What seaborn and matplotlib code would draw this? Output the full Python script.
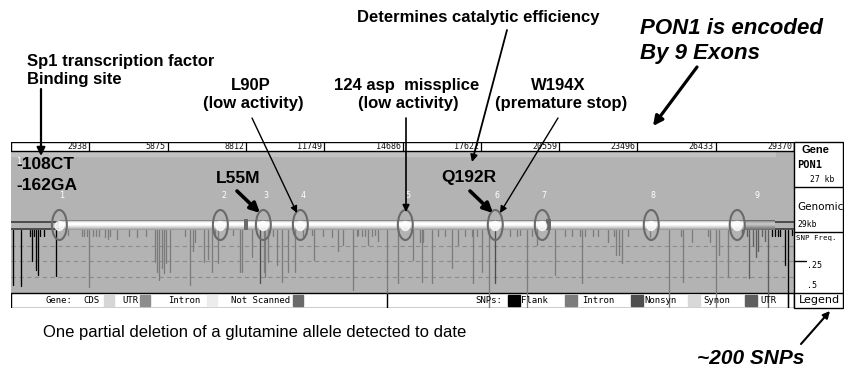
import numpy as np
import pandas as pd
import matplotlib
matplotlib.use("Agg")
import matplotlib.pyplot as plt
from matplotlib.patches import Ellipse, Rectangle
import seaborn as sns

# ---------------- data ----------------
ruler_ticks = [2938, 5875, 8812, 11749, 14686, 17622, 20559, 23496, 26433, 29370]
exon_ids = ["1", "2", "3", "4", "5", "6", "7", "8", "9"]
exon_pos = [1815, 7853, 9465, 10853, 14790, 18165, 19928, 24015, 27240]
exon_label_pos = [1928, 8003, 9578, 10965, 14903, 18240, 20003, 24090, 27990]
gene_start = 1815
intron_end = 27540
utr_end = 28665
region_end = 29370
not_scanned_start = [8740, 20060]
not_scanned_len = [150, 190]

snp_pos = [80, 390, 728, 791, 878, 953, 1016, 1103, 1253, 1703,
           2153, 2666, 2753, 2854, 2940, 3079, 3203, 3315, 3540, 3653,
           3728, 3990, 4440, 4740, 5078, 5415, 5479, 5565, 5666, 5753,
           5816, 5978, 6540, 6728, 6829, 6915, 7253, 7403, 7541, 7665,
           7778, 8340, 8603, 8666, 9041, 9353, 9476, 9540, 9653, 9840,
           9979, 10166, 10391, 10665, 10965, 11291, 11378, 11715, 12041, 12266,
           12465, 12840, 12979, 13028, 13166, 13290, 13403, 13541, 13665, 13778,
           14104, 14528, 15090, 15353, 15416, 15465, 15791, 16028, 16290, 16541,
           16778, 17040, 17291, 17340, 17479, 17666, 17914, 18165, 18728, 18979,
           19103, 19354, 19541, 19729, 20415, 20790, 21041, 21353, 21416, 21540,
           21840, 22028, 22403, 22628, 22691, 22815, 22916, 23141, 23978, 24690,
           25140, 25189, 25541, 26153, 26228, 26441, 26565, 26891, 27416, 27604,
           27690, 27840, 27941, 28028, 28166, 28290, 28376, 28541, 28665, 28766,
           28853, 29014, 29141, 29291]
snp_freq = [0.44, 0.45, 0.05, 0.25, 0.05, 0.32, 0.36, 0.05, 0.05, 0.37,
            0.04, 0.05, 0.05, 0.05, 0.46, 0.05, 0.05, 0.05, 0.06, 0.07,
            0.05, 0.07, 0.05, 0.06, 0.05, 0.26, 0.34, 0.40, 0.31, 0.35,
            0.27, 0.34, 0.05, 0.44, 0.17, 0.10, 0.26, 0.23, 0.34, 0.06,
            0.27, 0.04, 0.34, 0.34, 0.22, 0.43, 0.34, 0.38, 0.26, 0.05,
            0.28, 0.42, 0.34, 0.34, 0.05, 0.04, 0.24, 0.05, 0.06, 0.17,
            0.12, 0.48, 0.05, 0.04, 0.05, 0.05, 0.12, 0.05, 0.04, 0.09,
            0.63, 0.43, 0.24, 0.10, 0.42, 0.10, 0.43, 0.05, 0.05, 0.31,
            0.12, 0.05, 0.05, 0.43, 0.05, 0.34, 0.63, 0.43, 0.05, 0.05,
            0.04, 0.63, 0.05, 0.12, 0.36, 0.05, 0.05, 0.05, 0.43, 0.05,
            0.05, 0.05, 0.10, 0.05, 0.20, 0.20, 0.27, 0.05, 0.06, 0.63,
            0.05, 0.42, 0.10, 0.05, 0.10, 0.63, 0.20, 0.38, 0.05, 0.05,
            0.39, 0.13, 0.22, 0.17, 0.05, 0.09, 0.63, 0.05, 0.05, 0.05,
            0.05, 0.28, 0.63, 0.04]
snp_type = (["Flank"] * 10 + ["Intron"] * 35 + ["Nonsyn"] + ["Intron"] * 41
            + ["Nonsyn"] + ["Intron"] * 30 + ["UTR"] * 9 + ["Flank"] * 7)

legend_gene_labels = ["CDS", "UTR", "Intron", "Not Scanned"]
legend_snp_labels = ["Flank", "Intron", "Nonsyn", "Synon", "UTR"]
snp_colors = {"Flank": "#000000", "Intron": "#7c7c7c", "Nonsyn": "#4e4e4e",
              "Synon": "#d8d8d8", "UTR": "#5e5e5e"}
gene_colors = {"CDS": "#d6d6d6", "UTR": "#8c8c8c", "Intron": "#ececec",
               "Not Scanned": "#6a6a6a"}

# ---------------- style ----------------
sns.set_theme(style="white")
plt.rcParams["font.family"] = ["Liberation Sans", "DejaVu Sans"]
plt.rcParams["text.color"] = "black"
MONO = "DejaVu Sans Mono"

W, H = 845, 374
fig = plt.figure(figsize=(W / 100, H / 100), dpi=100)
fig.patch.set_facecolor("white")


def y2f(y):  # pixel row -> SNP-frequency units of the main axes
    return (y - 230.0) / 124.0


def px2g(x):  # pixel column -> genomic position
    return (x - 10.6) * 37.5


ax = fig.add_axes([11 / W, 1 - 308 / H, 783 / W, 166 / H])
ax.set_xlim(0, region_end)
ax.set_ylim(y2f(308), y2f(142))
ax.set_autoscale_on(False)
ax.axis("off")

# panel backgrounds
ax.add_patch(Rectangle((0, y2f(151)), region_end, y2f(293) - y2f(151),
                       color="#b3b3b3", zorder=0))
ax.add_patch(Rectangle((0, y2f(151)), utr_end, y2f(156) - y2f(151),
                       color="#c2c2c2", zorder=0.5))
ax.add_patch(Rectangle((0, y2f(142)), region_end, y2f(151) - y2f(142),
                       facecolor="white", edgecolor="black", lw=1.0, zorder=1))
ax.add_patch(Rectangle((0, y2f(293)), region_end, y2f(308) - y2f(293),
                       facecolor="white", edgecolor="black", lw=1.0, zorder=1))

# ruler
ax.vlines(ruler_ticks, y2f(142), y2f(151), color="black", lw=0.9, zorder=2)
for t in ruler_ticks:
    ax.text(t - 70, y2f(146.7), str(t), ha="right", va="center",
            fontsize=6, family=MONO, color="#111111", zorder=3)

# dashed frequency grid
ax.hlines([0.125, 0.25, 0.375], 0, region_end, colors="#8c8c8c",
          linestyles=(0, (4, 3)), lw=0.8, zorder=1)

# SNP stems via seaborn
rows = []
for i, (p, f, t) in enumerate(zip(snp_pos, snp_freq, snp_type)):
    rows.append({"pos": p, "freq": 0.0, "snp": i, "type": t})
    rows.append({"pos": p, "freq": f, "snp": i, "type": t})
snp_df = pd.DataFrame(rows)
sns.lineplot(data=snp_df, x="pos", y="freq", units="snp", hue="type",
             palette=snp_colors, estimator=None, sort=False, legend=False,
             lw=0.95, ax=ax, zorder=2)
ax.set_xlim(0, region_end)
ax.set_ylim(y2f(308), y2f(142))
ax.axis("off")

# gene bar
intron_grad = np.array([0.52, 0.84, 0.95, 1.0, 1.0, 0.95, 0.88, 0.80, 0.71, 0.62])[:, None]
utr_grad = np.array([0.42, 0.60, 0.70, 0.76, 0.76, 0.70, 0.63, 0.56, 0.50, 0.44])[:, None]
ax.imshow(intron_grad, cmap="gray", vmin=0, vmax=1, aspect="auto",
          extent=(gene_start, intron_end, 0.0, y2f(220)), zorder=3,
          interpolation="bilinear")
ax.imshow(utr_grad, cmap="gray", vmin=0, vmax=1, aspect="auto",
          extent=(intron_end, utr_end, 0.0, y2f(220)), zorder=3,
          interpolation="bilinear")
ax.hlines([y2f(221.5), y2f(228.5)], 0, gene_start, colors="#3a3a3a", lw=1.2, zorder=3)
ax.hlines([y2f(221.5), y2f(228.5)], utr_end, region_end, colors="#3a3a3a", lw=1.2, zorder=3)
ax.bar(not_scanned_start, [y2f(219) - y2f(230)] * 2, width=not_scanned_len,
       bottom=0.0, align="edge", color=gene_colors["Not Scanned"],
       edgecolor="none", linewidth=0, zorder=4)

# exons
for p, lp, lab in zip(exon_pos, exon_label_pos, exon_ids):
    ax.add_patch(Ellipse((p, y2f(226)), 330, 9 / 124, color="white",
                         alpha=0.75, zorder=4))
    ax.add_patch(Ellipse((p, y2f(225)), 560, 30 / 124, fill=False,
                         edgecolor="#6a6a6a", lw=1.5, zorder=5))
    ax.text(lp, y2f(196), lab, color="white", fontsize=6, family=MONO,
            ha="center", va="center", zorder=5)
ax.text(px2g(19), y2f(161), "1", color="white", fontsize=6, family=MONO,
        ha="center", va="center", zorder=5)

# legend strip
ax.vlines(px2g(387), y2f(293), y2f(308), color="black", lw=0.9, zorder=3)
ax.vlines(px2g(787.5), y2f(293), y2f(308), color="black", lw=0.9, zorder=3)
ly = y2f(300.5)
lbox_h = y2f(306) - y2f(295)
ax.text(px2g(45), ly, "Gene:", fontsize=6.5, family=MONO, va="center", zorder=4)
for lab, xt, xb in zip(legend_gene_labels, [83, 122, 168, 231], [104, 140, 207, 293]):
    ax.text(px2g(xt), ly, lab, fontsize=6.5, family=MONO, va="center", zorder=4)
    ax.add_patch(Rectangle((px2g(xb), y2f(295)), px2g(xb + 10) - px2g(xb), lbox_h,
                           color=gene_colors[lab], zorder=4))
ax.text(px2g(475), ly, "SNPs:", fontsize=6.5, family=MONO, va="center", zorder=4)
for lab, xt, xb in zip(legend_snp_labels, [521, 582, 644, 703, 760],
                       [508, 565, 631, 688, 745]):
    ax.add_patch(Rectangle((px2g(xb), y2f(295)), px2g(xb + 12) - px2g(xb), lbox_h,
                           color=snp_colors[lab], zorder=4))
    ax.text(px2g(xt), ly, lab, fontsize=6.5, family=MONO, va="center", zorder=5)

# ---------------- overlay (pixel coordinates) ----------------
ov = fig.add_axes([0, 0, 1, 1])
ov.set_xlim(0, W)
ov.set_ylim(H, 0)
ov.axis("off")
ov.patch.set_alpha(0)

# right info panel
ov.add_patch(Rectangle((794, 142), 49, 166, facecolor="white",
                       edgecolor="black", lw=1.0))
for yy in [187, 232, 293]:
    ov.plot([794, 843], [yy, yy], color="black", lw=1.0)
ov.plot([794, 806], [260.5, 260.5], color="black", lw=1.0)
ov.text(802, 150, "Gene", fontsize=8, weight="bold", va="center")
ov.text(797, 165, "PON1", fontsize=7.5, weight="bold", family=MONO, va="center")
ov.text(810, 179, "27 kb", fontsize=5.8, family=MONO, va="center")
ov.text(797, 207, "Genomic", fontsize=7.5, family="DejaVu Sans", va="center")
ov.text(797, 224, "29kb", fontsize=5.8, family=MONO, va="center")
ov.text(796, 238, "SNP Freq.", fontsize=5.3, family=MONO, va="center")
ov.text(807, 265, ".25", fontsize=6, family=MONO, va="center")
ov.text(807, 286, ".5", fontsize=6, family=MONO, va="center")
ov.text(819, 300, "Legend", fontsize=8, family="DejaVu Sans", ha="center", va="center")

# annotations
bold = dict(fontsize=12, weight="bold", va="center")
ov.text(478, 17, "Determines catalytic efficiency", ha="center", **bold)
ov.text(27, 61, "Sp1 transcription factor", ha="left", **bold)
ov.text(27, 79, "Binding site", ha="left", **bold)
ov.text(251, 85, "L90P", ha="center", **bold)
ov.text(253, 103, "(low activity)", ha="center", **bold)
ov.text(407, 85, "124 asp  missplice", ha="center", **bold)
ov.text(408, 103, "(low activity)", ha="center", **bold)
ov.text(558, 85, "W194X", ha="center", **bold)
ov.text(561, 103, "(premature stop)", ha="center", **bold)
ov.text(640, 28, "PON1 is encoded", fontsize=16, weight="bold", style="italic",
        ha="left", va="center")
ov.text(640, 53, "By 9 Exons", fontsize=16, weight="bold", style="italic",
        ha="left", va="center")
big = dict(fontsize=12.5, weight="bold", va="center")
ov.text(16, 164, "-108CT", ha="left", **big)
ov.text(16, 185, "-162GA", ha="left", **big)
ov.text(238, 178, "L55M", ha="center", **big)
ov.text(469, 177, "Q192R", ha="center", **big)
ov.text(43, 332, "One partial deletion of a glutamine allele detected to date",
        fontsize=12, ha="left", va="center")
ov.text(697, 358, "~200 SNPs", fontsize=15, weight="bold", style="italic",
        ha="left", va="center")

arrows = [((41, 89), (41, 156), 1.6, 12),
          ((252, 118), (297, 213), 1.0, 10),
          ((406, 118), (406, 212), 1.2, 10),
          ((507, 30), (472, 162), 1.3, 10),
          ((558, 118), (500, 213), 1.0, 10),
          ((697, 67), (653, 126), 2.3, 14),
          ((237, 191), (260, 213), 2.6, 14),
          ((470, 191), (493, 213), 2.6, 14),
          ((801, 344), (830, 311), 1.5, 10)]
for tail, head, lw, ms in arrows:
    ov.annotate("", xy=head, xytext=tail, annotation_clip=False,
                arrowprops=dict(arrowstyle="-|>", color="black", lw=lw,
                                mutation_scale=ms, shrinkA=0, shrinkB=0))

fig.savefig("out.png", dpi=100, facecolor="white")
